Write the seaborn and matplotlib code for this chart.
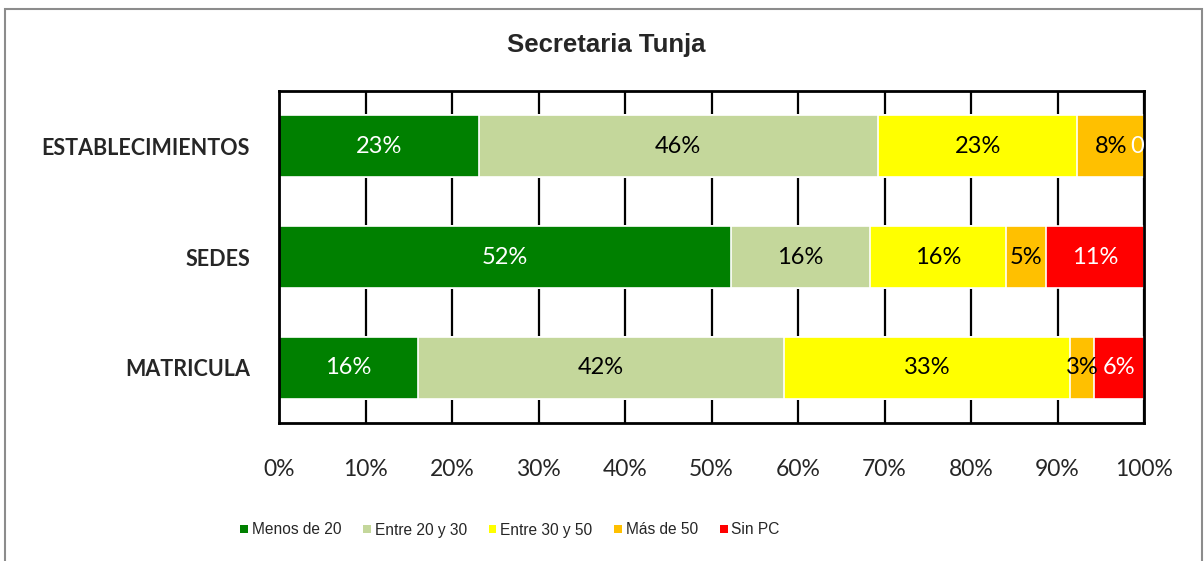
import matplotlib
matplotlib.use("Agg")
import matplotlib.pyplot as plt
from matplotlib.patches import Patch, Rectangle
import seaborn as sns
import pandas as pd
import numpy as np

categories = ["ESTABLECIMIENTOS", "SEDES", "MATRICULA"]
series = ["Menos de 20", "Entre 20 y 30", "Entre 30 y 50", "Más de 50", "Sin PC"]
menos_20 = [23.08, 52.3, 16.1]
entre_20_30 = [46.15, 16.0, 42.3]
entre_30_50 = [23.08, 15.8, 33.1]
mas_50 = [7.69, 4.6, 2.7]
sin_pc = [0.0, 11.3, 5.8]
labels = [
    ["23%", "46%", "23%", "8%", "0"],
    ["52%", "16%", "16%", "5%", "11%"],
    ["16%", "42%", "33%", "3%", "6%"],
]
x_ticks = [0, 10, 20, 30, 40, 50, 60, 70, 80, 90, 100]
x_tick_labels = ["0%", "10%", "20%", "30%", "40%", "50%", "60%", "70%", "80%", "90%", "100%"]
colors = ["#008000", "#C4D79B", "#FFFF00", "#FFC000", "#FF0000"]
text_colors = ["white", "black", "black", "black", "white"]

sns.set_theme(style="white")
plt.rcParams["font.family"] = ["Liberation Sans", "DejaVu Sans"]

values = np.array([menos_20, entre_20_30, entre_30_50, mas_50, sin_pc])  # series x categories
cum = np.cumsum(values, axis=0)

fig = plt.figure(figsize=(12.04, 5.61), dpi=100)
ax = fig.add_axes([279 / 1204, 1 - 423 / 561, (1144 - 279) / 1204, (423 - 91) / 561])

# grid lines behind bars
for t in x_ticks:
    ax.axvline(t, color="black", lw=1.6, zorder=0)

# stacked bars via overlaid cumulative seaborn barplots (largest first)
for i in range(len(series) - 1, -1, -1):
    df = pd.DataFrame({"cat": categories, "val": cum[i]})
    sns.barplot(data=df, y="cat", x="val", orient="h", color=colors[i],
                saturation=1, width=0.56, ax=ax, zorder=2,
                edgecolor="white", linewidth=1.2)

# data labels
for ci in range(len(categories)):
    for si in range(len(series)):
        v = values[si, ci]
        xc = cum[si, ci] - v / 2
        if v == 0:
            xc = cum[si, ci] - 0.8
        ax.text(xc, ci, labels[ci][si], ha="center", va="center",
                color=text_colors[si], fontsize=17, family=["Lato", "DejaVu Sans"],
                zorder=5)

ax.set_xlim(0, 100)
ax.set_ylim(2.5, -0.5)
ax.set_xticks(x_ticks)
ax.set_xticklabels(x_tick_labels, fontsize=16.5, family=["Lato", "DejaVu Sans"])
ax.tick_params(axis="x", length=0, pad=26)
ax.tick_params(axis="y", length=0, pad=21)
ax.set_yticks(range(len(categories)))
ax.set_yticklabels(categories, fontsize=15.5, fontweight="bold", family=["Lato", "DejaVu Sans"])
ax.set_xlabel("")
ax.set_ylabel("")
for s in ax.spines.values():
    s.set_color("black")
    s.set_linewidth(2)
    s.set_visible(True)

fig.text(606 / 1204, 1 - 45 / 561, "Secretaria Tunja", ha="center", va="center",
         fontsize=18.5, fontweight="bold")

handles = [Patch(facecolor=c, edgecolor="none") for c in colors]
fig.legend(handles, series, loc="center", bbox_to_anchor=(510 / 1204, 1 - 530 / 561),
           ncol=5, frameon=False, handlelength=0.5, handleheight=0.5,
           handletextpad=0.25, columnspacing=1.4,
           prop={"family": ["Liberation Sans", "DejaVu Sans"], "size": 11.2})

# outer chart border
fig.patches.append(Rectangle((5 / 1204, -0.05), (1202 - 5) / 1204, 1 - 9 / 561 + 0.05,
                             transform=fig.transFigure, fill=False,
                             edgecolor="#8c8c8c", lw=1.5))

fig.savefig("out.png", dpi=100)
